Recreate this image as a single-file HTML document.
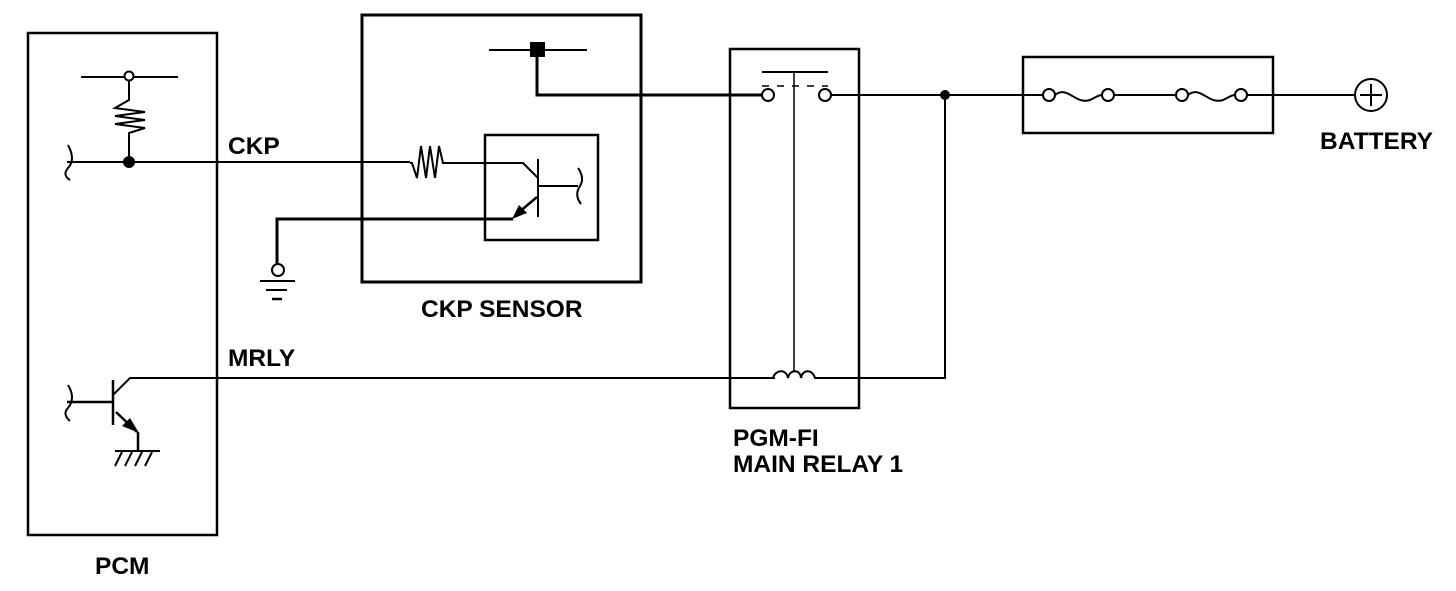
<!DOCTYPE html>
<html><head><style>body{margin:0;background:#fff}svg text{font-family:"Liberation Sans",Arial,sans-serif;font-weight:bold;font-size:24.5px;fill:#000}</style></head>
<body>
<svg width="1456" height="586" viewBox="0 0 1456 586" xmlns="http://www.w3.org/2000/svg" fill="none" stroke="#000" stroke-width="2">
<!-- PCM -->
<rect x="28" y="33" width="189" height="502" stroke-width="2.5"/>
<line x1="81" y1="77" x2="178" y2="77"/>
<circle cx="129" cy="76" r="4.5" fill="#fff"/>
<polyline points="129,81 129,100 115,108 145,112 115,116 145,120 115,124 145,128 129,133 129,162"/>
<line x1="67" y1="162" x2="410" y2="162"/>
<circle cx="129" cy="162" r="6" fill="#000" stroke="none"/>
<path d="M68,145 Q76,160 68,168 Q62,175 70,180"/>
<text x="228" y="154" stroke="none">CKP</text>
<!-- PCM transistor -->
<line x1="113" y1="380" x2="113" y2="425" stroke-width="2.5"/>
<line x1="67" y1="402" x2="113" y2="402" stroke-width="2.5"/>
<path d="M68,385 Q76,398 68,408 Q62,414 70,421"/>
<polyline points="113,395 130,378 775,378"/>
<line x1="116" y1="412" x2="137" y2="432" stroke-width="2.5"/>
<polygon points="139,433 122,426 130,418" fill="#000" stroke="none"/>
<line x1="138" y1="432" x2="138" y2="451" stroke-width="2.5"/>
<line x1="115" y1="451" x2="160" y2="451"/>
<line x1="122" y1="452" x2="115" y2="466"/><line x1="132" y1="452" x2="125" y2="466"/><line x1="142" y1="452" x2="135" y2="466"/><line x1="152" y1="452" x2="145" y2="466"/>
<text x="228" y="366" stroke="none">MRLY</text>
<text x="95" y="574" stroke="none">PCM</text>
<!-- CKP sensor -->
<rect x="362" y="15" width="279" height="267" stroke-width="3"/>
<rect x="485" y="135" width="113" height="105" stroke-width="2.5"/>
<polyline points="410,163 412,163 417,178 421,146 426,178 430,146 435,178 439,146 443,163 523,163 538,178"/>
<line x1="538" y1="159" x2="538" y2="217"/>
<line x1="538" y1="186" x2="578" y2="186"/>
<path d="M578,168 Q585,178 580,186 Q574,195 581,204"/>
<line x1="537" y1="197" x2="518" y2="213" stroke-width="2.5"/>
<polygon points="512,219 519,205 527,213" fill="#000" stroke="none"/>
<polyline points="513,219 277,219 277,265" stroke-width="3"/>
<circle cx="278" cy="270" r="6" fill="#fff"/>
<line x1="260" y1="281" x2="295" y2="281"/>
<line x1="266" y1="290" x2="287" y2="290"/>
<line x1="272" y1="299" x2="282" y2="299" stroke-width="2.5"/>
<line x1="489" y1="50" x2="587" y2="50"/>
<rect x="530" y="42" width="15" height="15" fill="#000" stroke="none"/>
<polyline points="537,57 537,95 762,95" stroke-width="3"/>
<text x="421" y="317" stroke="none">CKP SENSOR</text>
<!-- Relay -->
<rect x="730" y="49" width="129" height="359" stroke-width="2.5"/>
<line x1="762" y1="72" x2="828" y2="72"/>
<line x1="794" y1="72" x2="794" y2="372" stroke-width="1.5"/>
<line x1="762" y1="86" x2="828" y2="86" stroke-dasharray="7,8" stroke-width="1.5"/>
<circle cx="768" cy="95" r="6" fill="#fff"/>
<circle cx="825" cy="95" r="6" fill="#fff"/>
<line x1="831" y1="95" x2="1043" y2="95"/>
<circle cx="945" cy="95" r="5" fill="#000" stroke="none"/>
<polyline points="945,95 945,378 818,378"/>
<path d="M773,378 C775,370 786,368 788,378 C789,370 800,368 801,378 C802,370 812,368 815,378 L820,378"/>
<text x="733" y="446" stroke="none">PGM-FI</text>
<text x="733" y="472" stroke="none">MAIN RELAY 1</text>
<!-- Fuse box -->
<rect x="1023" y="57" width="250" height="76" stroke-width="2.5"/>
<circle cx="1049" cy="95" r="6" fill="#fff"/>
<path d="M1055,95 C1068,85 1075,105 1090,100 C1095,98 1098,95 1102,95"/>
<circle cx="1108" cy="95" r="6" fill="#fff"/>
<line x1="1114" y1="95" x2="1176" y2="95"/>
<circle cx="1182" cy="95" r="6" fill="#fff"/>
<path d="M1188,95 C1201,85 1208,105 1223,100 C1228,98 1231,95 1235,95"/>
<circle cx="1241" cy="95" r="6" fill="#fff"/>
<line x1="1247" y1="95" x2="1355" y2="95"/>
<circle cx="1371" cy="95" r="16"/>
<line x1="1360" y1="95" x2="1382" y2="95"/>
<line x1="1371" y1="84" x2="1371" y2="106"/>
<text x="1320" y="149" stroke="none">BATTERY</text>
</svg>
</body></html>
